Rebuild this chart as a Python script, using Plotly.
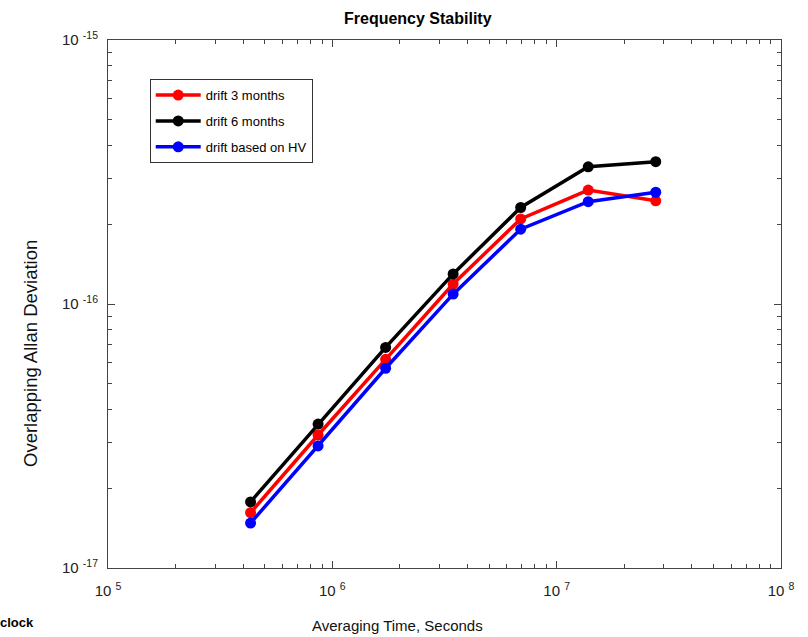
import plotly.graph_objects as go

tau = [432000, 864000, 1728000, 3456000, 6912000, 13824000, 27648000]
drift_3m = [1.62e-17, 3.19e-17, 6.17e-17, 1.19e-16, 2.10e-16, 2.70e-16, 2.46e-16]
drift_6m = [1.78e-17, 3.51e-17, 6.85e-17, 1.30e-16, 2.32e-16, 3.31e-16, 3.46e-16]
drift_hv = [1.48e-17, 2.90e-17, 5.71e-17, 1.09e-16, 1.92e-16, 2.44e-16, 2.65e-16]
names = ["drift 3 months", "drift 6 months", "drift based on HV"]
colors = ["#ff0000", "#000000", "#0000ff"]

xtick_vals = [1e5, 1e6, 1e7, 1e8]
xtick_text = ["10 <sup>5</sup>", "10 <sup>6</sup>", "10 <sup>7</sup>", "10 <sup>8</sup>"]
ytick_vals = [1e-17, 1e-16, 1e-15]
ytick_text = ["10 <sup>-17</sup>", "10 <sup>-16</sup>", "10 <sup>-15</sup>"]
x_minor = [m * 10.0 ** e for e in (5, 6, 7) for m in range(2, 10)]
y_minor = [m * 10.0 ** e for e in (-17, -16) for m in range(2, 10)]

fig = go.Figure()
for i, (name, vals, col) in enumerate(zip(names, [drift_3m, drift_6m, drift_hv], colors)):
    fig.add_trace(go.Scatter(x=tau, y=vals, name=name, mode="lines+markers",
                             legendgroup="g%d" % i,
                             line=dict(color=col, width=3.5),
                             marker=dict(color=col, size=11)))

axis_common = dict(type="log", showline=True, linecolor="#444444", linewidth=1,
                   mirror="allticks", ticks="inside", ticklen=7, tickcolor="#444444",
                   showgrid=False, zeroline=False, automargin=False,
                   tickfont=dict(size=15, color="#222222"))

fig.update_xaxes(range=[5, 8], tickvals=xtick_vals, ticktext=xtick_text,
                 minor=dict(tickmode="array", tickvals=x_minor, ticks="inside", ticklen=4,
                            tickcolor="#444444", showgrid=False),
                 ticklabelstandoff=9, **axis_common)
fig.update_yaxes(range=[-17, -15], tickvals=ytick_vals, ticktext=ytick_text,
                 minor=dict(tickmode="array", tickvals=y_minor, ticks="inside", ticklen=4,
                            tickcolor="#444444", showgrid=False),
                 ticklabelstandoff=6, **axis_common)

fig.update_layout(
    width=808, height=637,
    margin=dict(l=108, r=27, t=40, b=69),
    paper_bgcolor="white", plot_bgcolor="white",
    font=dict(family="Liberation Sans, Arial, sans-serif", color="#111111"),
    legend=dict(x=0.062, y=0.926, xanchor="left", yanchor="top",
                bordercolor="#333333", borderwidth=1, bgcolor="white",
                font=dict(size=13, color="#000000"), tracegroupgap=6,
                itemwidth=45),
    showlegend=True,
)

# title and axis titles (positioned as in the reference)
fig.add_annotation(text="<b>Frequency Stability</b>", xref="paper", yref="paper",
                   x=(418 - 108) / 673, y=(568 - 19) / 528, xanchor="center", yanchor="middle",
                   showarrow=False, font=dict(size=16, color="#000000"))
fig.add_annotation(text="Averaging Time, Seconds", xref="paper", yref="paper",
                   x=(397 - 108) / 673, y=(568 - 625) / 528, xanchor="center", yanchor="middle",
                   showarrow=False, font=dict(size=15, color="#111111"))
fig.add_annotation(text="Overlapping Allan Deviation", xref="paper", yref="paper",
                   x=(30 - 108) / 673, y=(568 - 354) / 528, xanchor="center", yanchor="middle",
                   textangle=-90, showarrow=False, font=dict(size=18.5, color="#111111"))
fig.add_annotation(text="<b>clock</b>", xref="paper", yref="paper",
                   x=-110 / 673, y=-54 / 528, xanchor="left", yanchor="middle",
                   showarrow=False, font=dict(size=13, color="#000000"))

fig.write_html("out.html", config={"displayModeBar": False},
               post_script="document.body.style.margin='0';document.body.style.overflow='hidden';")
